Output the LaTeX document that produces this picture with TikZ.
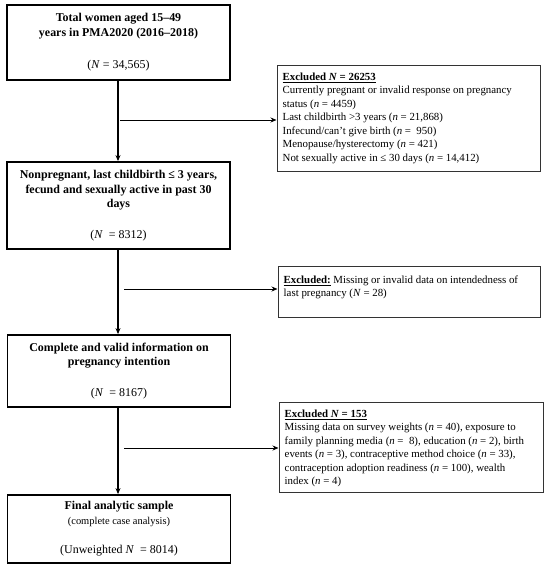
\documentclass[tikz,border=0pt]{standalone}
\usepackage{fontspec}
\setmainfont{Liberation Serif}
\usetikzlibrary{arrows.meta}
\tikzset{
  mainbox/.style={draw=black, line width=1.8bp, minimum width=223bp, align=center, inner sep=0pt,
    font=\fontsize{12}{14.5}\selectfont},
  exbox/.style={draw=black!80, line width=1bp},
  extext/.style={anchor=north west, align=left, inner sep=0pt, font=\fontsize{10.9}{13.6}\selectfont},
  flow/.style={line width=1.2bp, -{Stealth[length=6bp,width=5bp]}},
  side/.style={line width=0.9bp, -{Stealth[length=6bp,width=5bp]}}
}
\begin{document}
\begin{tikzpicture}[x=1bp,y=-1bp]
\useasboundingbox (0,0) rectangle (550,568);
% main boxes
\node[mainbox, minimum height=75bp] (b1) at (118.5,42.5)
  {\textbf{Total women aged 15–49}\\ \textbf{years in PMA2020 (2016–2018)}\\[18pt] (\textit{N} = 34,565)};
\node[mainbox, minimum height=87bp] (b2) at (118.5,205.5)
  {\textbf{Nonpregnant, last childbirth ≤ 3 years,}\\ \textbf{fecund and sexually active in past 30}\\ \textbf{days}\\[16pt] (\textit{N} \ = 8312)};
\node[mainbox, minimum height=72bp] (b3) at (119,371)
  {\textbf{Complete and valid information on}\\ \textbf{pregnancy intention}\\[16pt] (\textit{N} \ = 8167)};
\node[mainbox, minimum height=68bp] (b4) at (119,529)
  {\textbf{Final analytic sample}\\ {\fontsize{10.5}{13}\selectfont (complete case analysis)}\\[15pt] (Unweighted \textit{N} \ = 8014)};
% excluded boxes
\node[exbox, minimum width=263bp, minimum height=105bp] (e1) at (408.5,118.5) {};
\node[extext] (t1) at ([xshift=6bp,yshift=-7bp]e1.north west)
  {\underline{\textbf{Excluded \textit{N} = 26253}}\\
   Currently pregnant or invalid response on pregnancy\\
   status (\textit{n} = 4459)\\
   Last childbirth >3 years (\textit{n} = 21,868)\\
   Infecund/can’t give birth (\textit{n} = \ 950)\\
   Menopause/hysterectomy (\textit{n} = 421)\\
   Not sexually active in ≤ 30 days (\textit{n} = 14,412)};
\node[exbox, minimum width=262bp, minimum height=51bp] (e2) at (409,291.5) {};
\node[extext] (t2) at ([xshift=6bp,yshift=-10bp]e2.north west)
  {\underline{\textbf{Excluded:}} Missing or invalid data on intendedness of\\
   last pregnancy (\textit{N} = 28)};
\node[exbox, minimum width=264bp, minimum height=90bp] (e3) at (411,447) {};
\node[extext] (t3) at ([xshift=6bp,yshift=-8bp]e3.north west)
  {\underline{\textbf{Excluded \textit{N} = 153}}\\
   Missing data on survey weights (\textit{n} = 40), exposure to\\
   family planning media (\textit{n} = \ 8), education (\textit{n} = 2), birth\\
   events (\textit{n} = 3), contraceptive method choice (\textit{n} = 33),\\
   contraception adoption readiness (\textit{n} = 100), wealth\\
   index (\textit{n} = 4)};
% connectors
\draw[flow] (b1.south -| 118,0) -- (b2.north -| 118,0);
\draw[flow] (b2.south -| 118,0) -- (b3.north -| 118,0);
\draw[flow] (b3.south -| 118,0) -- (b4.north -| 118,0);
\coordinate (s1) at (120,120);
\coordinate (s2) at (124,289);
\coordinate (s3) at (124,448);
\draw[side] (s1) -- (s1 -| e1.west);
\draw[side] (s2) -- (s2 -| e2.west);
\draw[side] (s3) -- (s3 -| e3.west);
\end{tikzpicture}
\end{document}
